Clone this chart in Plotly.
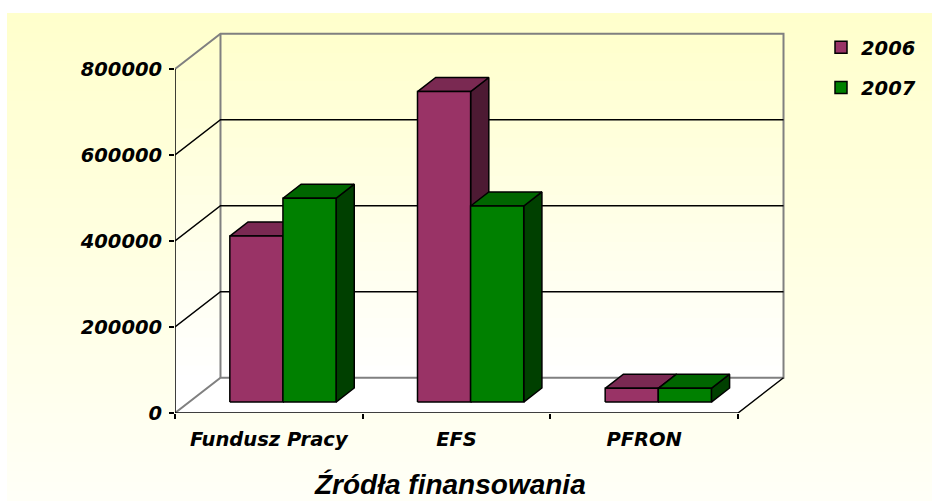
import plotly.graph_objects as go

# ---------------- data ----------------
categories = ["Fundusz Pracy", "EFS", "PFRON"]
series_names = ["2006", "2007"]
values_2006 = [386000, 722000, 32000]
values_2007 = [474000, 456000, 32000]
y_tick_values = [0, 200000, 400000, 600000, 800000]
y_tick_labels = ["0", "200000", "400000", "600000", "800000"]
axis_title = "Źródła finansowania"

# ---------------- style / geometry ----------------
W, H = 932, 501
ML, MT = 175, 26
PLOT_W, PLOT_H = 615, 387
X_MAX = 3.277
Y_MAX = 900000
Y_TOP = 800000
DEPTH_X = 0.2424
DEPTH_Y = 82000
BAR_F0, BAR_F1 = 0.31, 0.71
BAR_W = 0.283

front_colors = ["#993366", "#008000"]
top_colors = ["#7a2952", "#006600"]
side_colors = ["#4d1a33", "#004000"]
GREY = "#808080"

FONT_TXT = dict(family="DejaVu Sans", size=19.5, color="black", weight="bold", style="italic")
FONT_TITLE = dict(family="Liberation Sans", size=28, color="black", weight="bold", style="italic")

fig = go.Figure()
shapes = []

def px2paper(px, py):
    return (px - ML) / PLOT_W, ((MT + PLOT_H) - py) / PLOT_H

# chart-area gradient (paper coordinates)
N = 50
top_px, bot_px, left_px = 13, 501, 7
for k in range(N):
    a = top_px + (bot_px - top_px) * k / N
    b = top_px + (bot_px - top_px) * (k + 1) / N + 1
    t = (k + 0.5) / N
    blue = round(204 + (247 - 204) * t)
    x0, y0 = px2paper(left_px, a)
    x1, y1 = px2paper(W + 2, min(b, bot_px + 2))
    shapes.append(dict(type="rect", xref="paper", yref="paper", x0=x0, x1=x1, y0=y0, y1=y1,
                       fillcolor=f"rgb(255,255,{blue})", line=dict(width=0), layer="below"))

ncat = len(categories)

# wall gradient (data coordinates), clipped to wall hexagon
wall = [(0, 0), (DEPTH_X, DEPTH_Y), (ncat + DEPTH_X, DEPTH_Y),
        (ncat + DEPTH_X, DEPTH_Y + Y_TOP), (DEPTH_X, DEPTH_Y + Y_TOP), (0, Y_TOP)]

def clip(poly, yv, keep_above):
    out = []
    n = len(poly)
    for i in range(n):
        p, q = poly[i], poly[(i + 1) % n]
        pin = (p[1] >= yv) if keep_above else (p[1] <= yv)
        qin = (q[1] >= yv) if keep_above else (q[1] <= yv)
        if pin:
            out.append(p)
        if pin != qin:
            tt = (yv - p[1]) / (q[1] - p[1])
            out.append((p[0] + tt * (q[0] - p[0]), yv))
    return out

NW = 40
ymax_wall = DEPTH_Y + Y_TOP
step = ymax_wall / NW
for k in range(NW):
    a = k * step
    b = min((k + 1) * step + step * 0.3, ymax_wall)
    poly = clip(clip(wall, a, True), b, False)
    if len(poly) < 3:
        continue
    ym = (k + 0.5) * step
    t = min(max((ym - DEPTH_Y) / Y_TOP, 0), 1)
    blue = round(255 - 51 * t)
    path = "M " + " L ".join(f"{x},{y}" for x, y in poly) + " Z"
    shapes.append(dict(type="path", xref="x", yref="y", path=path,
                       fillcolor=f"rgb(255,255,{blue})", line=dict(width=0), layer="below"))

# floor
fig.add_trace(go.Scatter(x=[0, ncat, ncat + DEPTH_X, DEPTH_X, 0], y=[0, 0, DEPTH_Y, DEPTH_Y, 0],
                         mode="lines", fill="toself", fillcolor="white", line=dict(width=0),
                         showlegend=False, hoverinfo="skip"))

# grey wall edges
gx = [0, DEPTH_X, ncat + DEPTH_X, ncat + DEPTH_X, DEPTH_X, 0, None, DEPTH_X, DEPTH_X]
gy = [0, DEPTH_Y, DEPTH_Y, DEPTH_Y + Y_TOP, DEPTH_Y + Y_TOP, Y_TOP, None, DEPTH_Y, DEPTH_Y + Y_TOP]
fig.add_trace(go.Scatter(x=gx, y=gy, mode="lines", line=dict(color=GREY, width=2),
                         showlegend=False, hoverinfo="skip"))

# black gridlines (side wall + back wall)
kx, ky = [], []
for v in y_tick_values[1:-1]:
    kx += [0, DEPTH_X, ncat + DEPTH_X, None]
    ky += [v, DEPTH_Y + v, DEPTH_Y + v, None]
fig.add_trace(go.Scatter(x=kx, y=ky, mode="lines", line=dict(color="black", width=1.5),
                         showlegend=False, hoverinfo="skip"))

# front axis lines
fig.add_trace(go.Scatter(x=[0, 0, ncat, ncat + DEPTH_X], y=[Y_TOP, 0, 0, DEPTH_Y], mode="lines",
                         line=dict(color="black", width=1.5), showlegend=False, hoverinfo="skip"))

# bars
all_values = [values_2006, values_2007]
for i in range(ncat):
    c = i + 0.5
    for s in range(2):
        v = all_values[s][i]
        xl = c - BAR_W if s == 0 else c
        xr = xl + BAR_W
        x0f, y0f = BAR_F0 * DEPTH_X, BAR_F0 * DEPTH_Y
        x1f, y1f = BAR_F1 * DEPTH_X, BAR_F1 * DEPTH_Y
        side = ([xr + x0f, xr + x1f, xr + x1f, xr + x0f, xr + x0f],
                [y0f, y1f, y1f + v, y0f + v, y0f])
        top = ([xl + x0f, xr + x0f, xr + x1f, xl + x1f, xl + x0f],
               [y0f + v, y0f + v, y1f + v, y1f + v, y0f + v])
        front = ([xl + x0f, xr + x0f, xr + x0f, xl + x0f, xl + x0f],
                 [y0f, y0f, y0f + v, y0f + v, y0f])
        for (px_, py_), col in ((side, side_colors[s]), (top, top_colors[s]), (front, front_colors[s])):
            fig.add_trace(go.Scatter(x=px_, y=py_, mode="lines", fill="toself", fillcolor=col,
                                     line=dict(color="black", width=1.5), showlegend=False,
                                     hoverinfo="skip"))

# legend entries
for s, name in enumerate(series_names):
    fig.add_trace(go.Scatter(x=[-5], y=[-5], mode="markers", name=name, legendgroup=name,
                             xaxis="x2",
                             marker=dict(symbol="square", size=12, color=front_colors[s],
                                         line=dict(color="black", width=1.5)),
                             hoverinfo="skip"))

fig.update_layout(
    width=W, height=H,
    margin=dict(l=ML, r=W - ML - PLOT_W, t=MT, b=H - MT - PLOT_H, autoexpand=False),
    paper_bgcolor="white", plot_bgcolor="rgba(0,0,0,0)",
    shapes=shapes,
    hovermode=False,
    showlegend=True,
    legend=dict(xref="container", yref="container", x=821 / W, y=1 - 28 / H,
                xanchor="left", yanchor="top", font=FONT_TXT, bgcolor="rgba(0,0,0,0)",
                tracegroupgap=12, traceorder="grouped", itemclick=False, itemdoubleclick=False),
    xaxis=dict(range=[0, X_MAX], tickvals=[i + 0.5 for i in range(ncat)], ticktext=categories,
               ticks="", showgrid=False, zeroline=False, showline=False,
               tickfont=FONT_TXT, ticklabelstandoff=12, fixedrange=True),
    xaxis2=dict(range=[0, X_MAX], overlaying="x", anchor="y", side="bottom",
                tickvals=list(range(ncat + 1)), ticks="outside", ticklen=5, tickwidth=1.5,
                tickcolor="black", showticklabels=False, showgrid=False, zeroline=False,
                showline=False, fixedrange=True),
    yaxis=dict(range=[0, Y_MAX], tickvals=y_tick_values, ticktext=y_tick_labels,
               ticks="outside", ticklen=5, tickwidth=1.5, tickcolor="black",
               showgrid=False, zeroline=False, showline=False, tickfont=FONT_TXT,
               ticklabelstandoff=3, fixedrange=True),
    annotations=[dict(text=axis_title, xref="paper", yref="paper",
                      x=(449.5 - ML) / PLOT_W, y=((MT + PLOT_H) - 484) / PLOT_H,
                      xanchor="center", yanchor="middle", showarrow=False, font=FONT_TITLE)],
)

fig.write_html("out.html", config={"displayModeBar": False},
               post_script="document.body.style.margin='0';document.body.style.padding='0';")
